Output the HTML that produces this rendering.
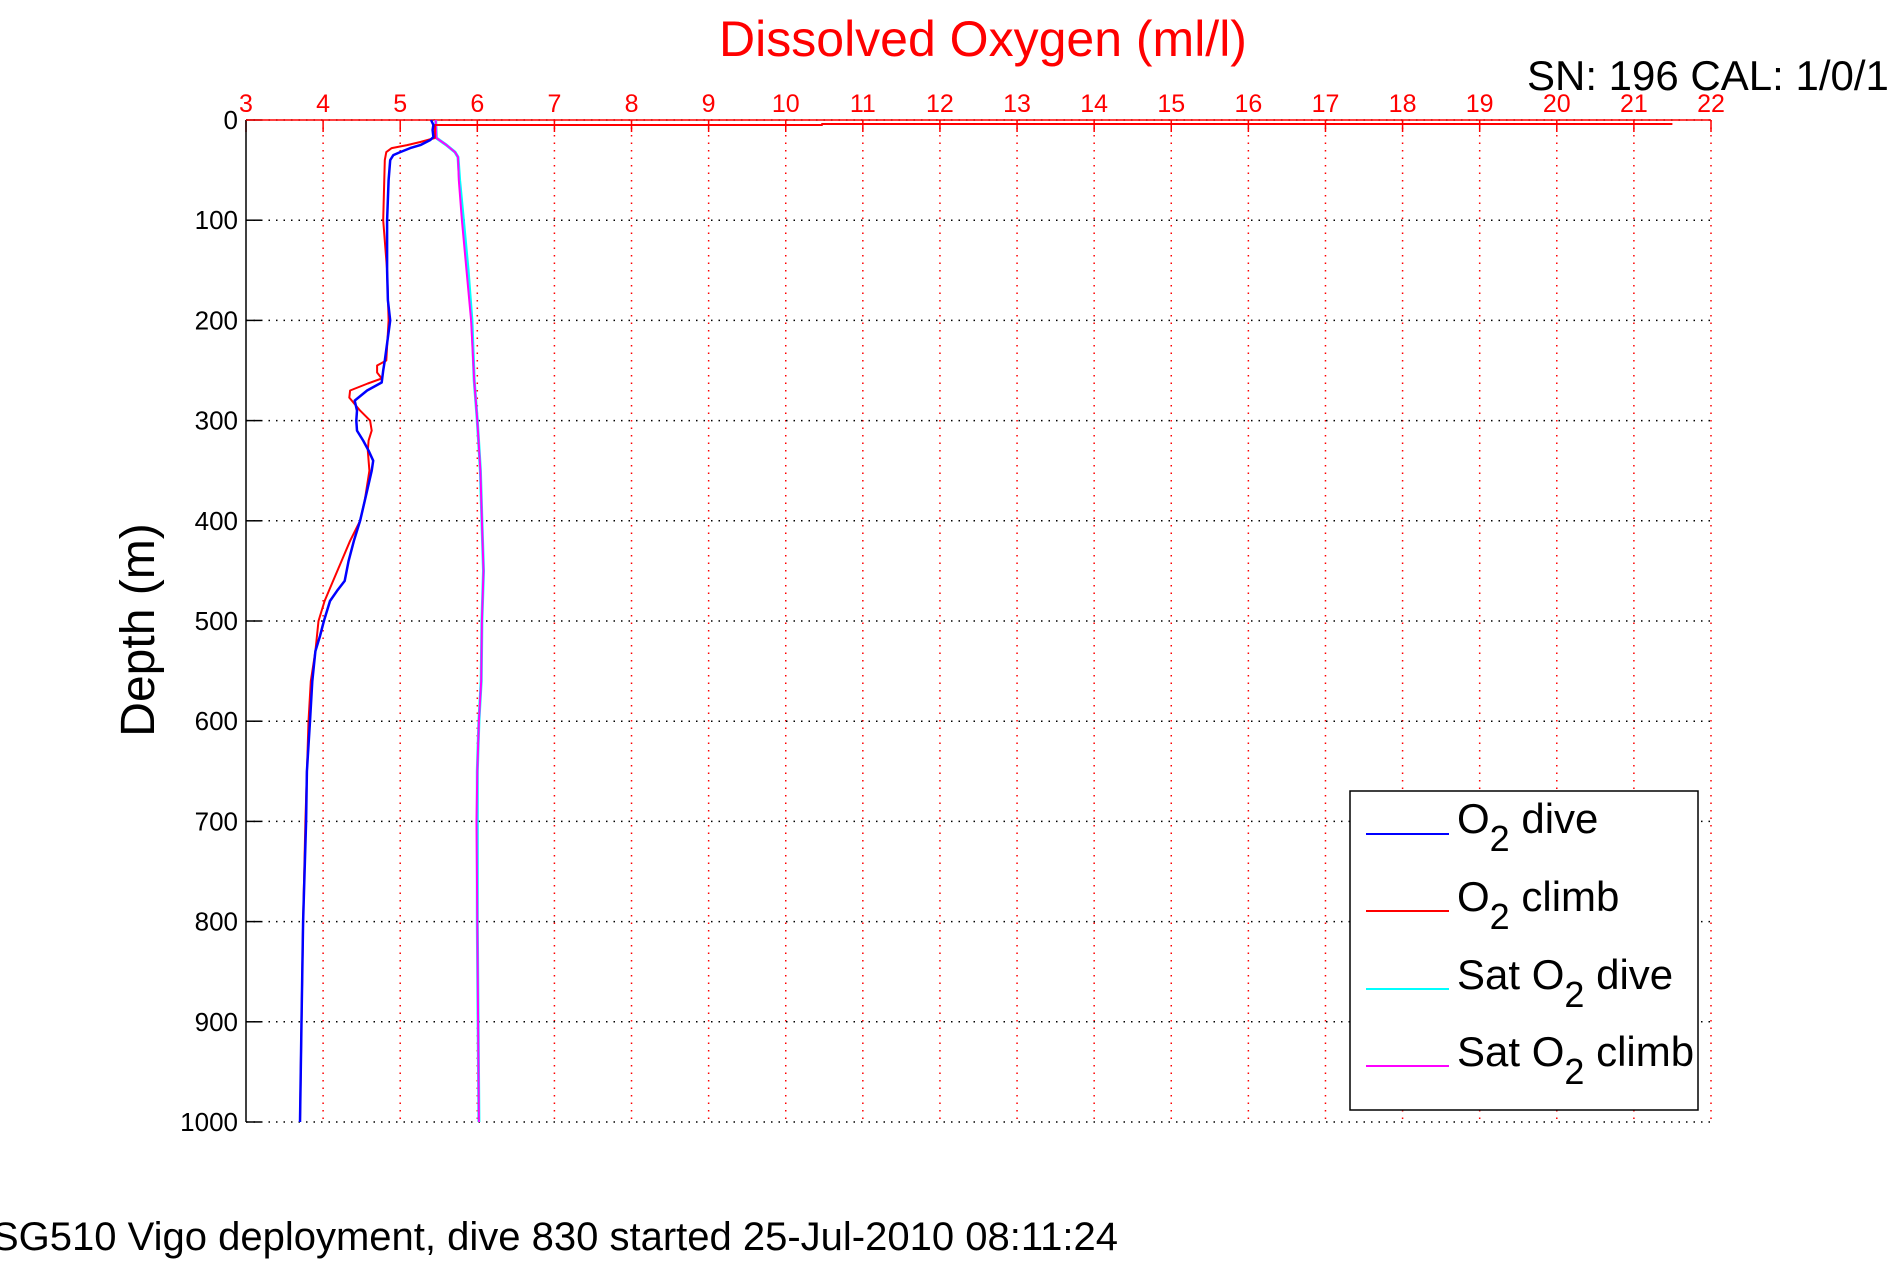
<!DOCTYPE html>
<html><head><meta charset="utf-8"><style>
html,body{margin:0;padding:0;background:#fff;}
svg{display:block;font-family:"Liberation Sans",sans-serif;}
</style></head><body>
<svg id="chart" width="1891" height="1262" viewBox="0 0 1891 1262" xmlns="http://www.w3.org/2000/svg">
<rect width="1891" height="1262" fill="#fff"/>
<g id="grid"></g>
<g id="axes"></g>
<g id="series"></g>
<text x="983" y="56" font-size="50" fill="#ff0000" text-anchor="middle">Dissolved Oxygen (ml/l)</text>
<text x="1527" y="90" font-size="42" fill="#000">SN: 196  CAL: 1/0/1</text>
<text x="0" y="0" font-size="48" fill="#000" text-anchor="middle" transform="translate(154,630) rotate(-90)">Depth (m)</text>
<text x="-8" y="1250" font-size="40" fill="#000">SG510 Vigo deployment, dive 830 started 25-Jul-2010 08:11:24</text>
<g>
<rect x="1350" y="791" width="348" height="319" fill="#fff" stroke="#000" stroke-width="1.5"/>
<g>
<line x1="1366" y1="834" x2="1449" y2="834" stroke="#0000ff" stroke-width="2"/>
<text x="1457" y="833" font-size="42">O<tspan font-size="36" dy="18">2</tspan><tspan dy="-18"> dive</tspan></text></g>
<g>
<line x1="1366" y1="911" x2="1449" y2="911" stroke="#ff0000" stroke-width="2"/>
<text x="1457" y="911" font-size="42">O<tspan font-size="36" dy="18">2</tspan><tspan dy="-18"> climb</tspan></text></g>
<g>
<line x1="1366" y1="989" x2="1449" y2="989" stroke="#00ffff" stroke-width="2"/>
<text x="1457" y="989" font-size="42">Sat O<tspan font-size="36" dy="18">2</tspan><tspan dy="-18"> dive</tspan></text></g>
<g>
<line x1="1366" y1="1066" x2="1449" y2="1066" stroke="#ff00ff" stroke-width="2"/>
<text x="1457" y="1066" font-size="42">Sat O<tspan font-size="36" dy="18">2</tspan><tspan dy="-18"> climb</tspan></text></g>
</g>
</svg>
<script>
const xTicks = [3,4,5,6,7,8,9,10,11,12,13,14,15,16,17,18,19,20,21,22];
const yTicks = [0,100,200,300,400,500,600,700,800,900,1000];
const diveDepth = [0,5,10,17,20,25,28,32,35,40,60,100,150,180,200,240,250,262,270,280,290,300,310,320,330,340,350,370,400,420,440,460,470,480,500,515,530,560,600,650,700,800,900,1000];
const diveO2 = [5.40,5.43,5.42,5.43,5.39,5.26,5.13,5.0,4.91,4.87,4.85,4.83,4.83,4.84,4.87,4.80,4.78,4.76,4.57,4.41,4.44,4.43,4.44,4.52,4.59,4.65,4.63,4.57,4.48,4.40,4.33,4.28,4.18,4.09,4.01,3.96,3.90,3.86,3.83,3.79,3.78,3.74,3.72,3.70];
const climbDepth = [1000,900,800,700,600,560,530,500,480,460,440,420,400,380,350,330,320,310,300,290,277,270,263,258,252,245,240,200,150,100,40,32,28,25,22,18,10,5,5,4,4];
const climbO2 = [3.70,3.72,3.74,3.77,3.81,3.84,3.90,3.94,4.02,4.13,4.24,4.35,4.48,4.54,4.60,4.58,4.59,4.63,4.61,4.48,4.34,4.35,4.58,4.76,4.70,4.70,4.82,4.85,4.83,4.78,4.80,4.82,4.89,5.09,5.26,5.45,5.45,5.45,10.47,10.47,21.5];
const satDepth = [0,18,25,32,37,60,100,150,200,260,300,350,400,450,500,560,600,650,700,800,900,1000];
const satDive = [5.46,5.47,5.60,5.71,5.75,5.77,5.82,5.88,5.93,5.96,6.0,6.04,6.06,6.08,6.06,6.05,6.02,6.0,6.0,6.0,6.01,6.02];
const satClimb = [5.46,5.47,5.60,5.71,5.75,5.76,5.80,5.86,5.92,5.96,6.0,6.04,6.06,6.08,6.06,6.05,6.02,6.0,5.99,6.0,6.01,6.02];

const NS = "http://www.w3.org/2000/svg";
const X0 = 246, X1 = 1711, Y0 = 120, Y1 = 1122;
function xScale(v){ return X0 + (v - 3) / 19 * (X1 - X0); }
function yScale(d){ return Y0 + d / 1000 * (Y1 - Y0); }
function mk(tag, attrs, parent){
  const e = document.createElementNS(NS, tag);
  for (const k in attrs) e.setAttribute(k, attrs[k]);
  parent.appendChild(e);
  return e;
}
const grid = document.getElementById('grid');
const axes = document.getElementById('axes');
const series = document.getElementById('series');

xTicks.forEach(function(t){
  const x = xScale(t);
  if (t > 3) {
    const g = mk('line', {x1:x, y1:Y0, x2:x, y2:Y1, stroke:'#ff0000', 'stroke-width':1.5, 'stroke-dasharray':'1.5 6'}, grid);
    
    
  }
  const tk = mk('line', {x1:x, y1:Y0, x2:x, y2:Y0+12, stroke:'#ff0000', 'stroke-width':1.5}, axes);
  
  
  const lb = mk('text', {x:x, y:112, 'font-size':25, fill:'#ff0000', 'text-anchor':'middle'}, axes);
  lb.textContent = t;
  
  
});
yTicks.forEach(function(t){
  const y = yScale(t);
  const g = mk('line', {x1:X0, y1:y, x2:X1, y2:y, stroke:'#000', 'stroke-width':1.5, 'stroke-dasharray':'1.5 6'}, grid);
  
  
  const tk = mk('line', {x1:X0, y1:y, x2:X0+15, y2:y, stroke:'#000', 'stroke-width':1.5}, axes);
  
  
  const lb = mk('text', {x:238, y:y+9, 'font-size':26, fill:'#000', 'text-anchor':'end'}, axes);
  lb.textContent = t;
  
  
});
const la = mk('line', {x1:X0, y1:Y0, x2:X0, y2:Y1, stroke:'#000', 'stroke-width':1.5}, axes);


const ta = mk('line', {x1:X0, y1:Y0, x2:X1, y2:Y0, stroke:'#ff0000', 'stroke-width':1.5}, axes);



function drawSeries(depths, vals, color, name, w){
  const pts = depths.map(function(d, i){ return xScale(vals[i]).toFixed(1) + ',' + yScale(d).toFixed(1); }).join(' ');
  const p = mk('polyline', {points:pts, fill:'none', stroke:color, 'stroke-width':w, 'stroke-linejoin':'round'}, series);
  
  
}
drawSeries(satDepth, satDive, '#00ffff', 'sat-o2-dive-line', 3);
drawSeries(satDepth, satClimb, '#ff00ff', 'sat-o2-climb-line', 2);
drawSeries(climbDepth, climbO2, '#ff0000', 'o2-climb-line', 2);
drawSeries(diveDepth, diveO2, '#0000ff', 'o2-dive-line', 2.5);
</script>
</body></html>
